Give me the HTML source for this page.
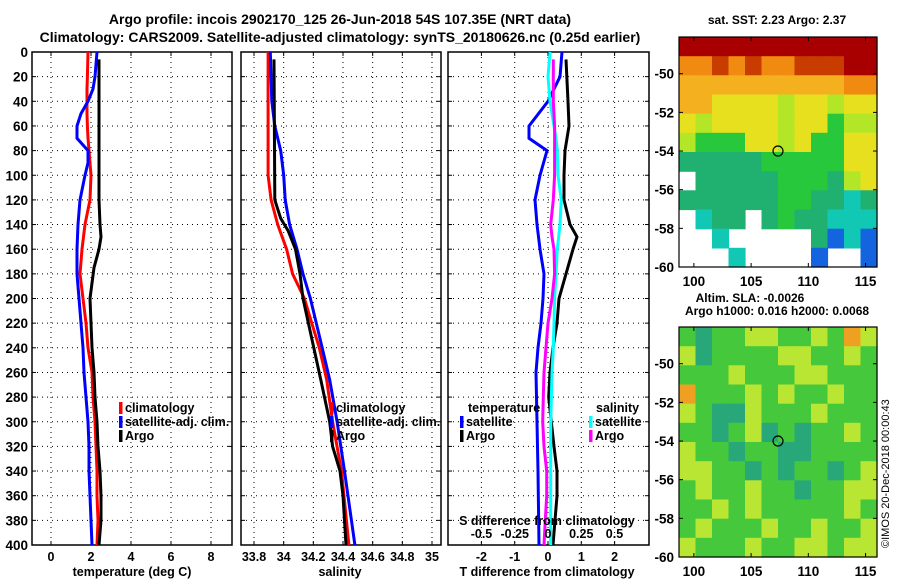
<!DOCTYPE html>
<html><head><meta charset="utf-8">
<style>
html,body{margin:0;padding:0;background:#fff;}
svg{display:block;font-family:"Liberation Sans",Arial,sans-serif;font-weight:bold;}
text{fill:#000;}
</style></head><body>
<svg id="fig" width="900" height="580" viewBox="0 0 900 580" xmlns="http://www.w3.org/2000/svg">
<text x="340" y="24" font-size="14" text-anchor="middle">Argo profile: incois 2902170_125 26-Jun-2018 54S 107.35E (NRT data)</text>
<text x="340" y="42" font-size="14" text-anchor="middle">Climatology: CARS2009. Satellite-adjusted climatology: synTS_20180626.nc (0.25d earlier)</text>
<text x="777" y="24" font-size="12" text-anchor="middle">sat. SST: 2.23 Argo: 2.37</text>
<text x="750" y="302" font-size="12" text-anchor="middle">Altim. SLA: -0.0026</text>
<text x="777" y="315" font-size="12" text-anchor="middle">Argo h1000: 0.016 h2000: 0.0068</text>
<text transform="translate(889,548) rotate(-90)" font-size="11" font-weight="normal">©IMOS 20-Dec-2018 00:00:43</text>
</svg>
<script>
// ---------- data ----------
const tDepth = [0,20,30,40,50,60,70,80,90,100,120,140,160,180,200,220,240,260,280,300,320,340,360,380,400];
const tClim  = [1.85,1.82,1.8,1.8,1.8,1.82,1.85,1.9,1.95,2.0,1.95,1.7,1.55,1.45,1.6,1.75,1.85,2.05,2.1,2.2,2.25,2.3,2.3,2.35,2.3];
const tSat   = [2.3,2.2,2.1,1.85,1.5,1.3,1.3,1.85,1.85,1.7,1.45,1.35,1.3,1.3,1.4,1.5,1.6,1.65,1.75,1.85,1.9,1.9,1.95,2.0,2.05];
const argoDepth = [6,20,40,60,80,100,120,140,150,160,175,200,220,240,260,280,300,320,340,360,380,400];
const tArgo  = [2.4,2.4,2.4,2.4,2.4,2.4,2.4,2.45,2.5,2.4,2.15,1.95,2.0,2.05,2.15,2.2,2.3,2.35,2.45,2.5,2.5,2.4];
const sDepth = [0,40,60,80,100,120,140,160,180,200,220,240,266,300,340,400];
const sClim  = [33.895,33.895,33.895,33.895,33.895,33.915,33.96,34.02,34.06,34.14,34.19,34.24,34.29,34.33,34.39,34.44];
const sSat   = [33.91,33.92,33.94,33.98,34.0,34.01,34.04,34.09,34.13,34.18,34.22,34.26,34.31,34.36,34.41,34.48];
const sArgoDepth = [6,120,135,145,160,180,200,266,300,320,340,360,400];
const sArgo  = [33.935,33.94,33.98,34.03,34.08,34.11,34.13,34.25,34.31,34.33,34.38,34.40,34.42];
const dDepth = [0,20,40,60,70,80,100,120,140,160,180,200,220,240,260,300,340,400];
const dTSat  = [0.42,0.36,0,-0.57,-0.57,-0.03,-0.24,-0.39,-0.33,-0.24,-0.12,-0.15,-0.21,-0.3,-0.36,-0.33,-0.3,-0.27];
const dArgoDepth = [6,40,60,80,100,120,140,150,160,180,200,220,240,260,280,300,320,340,360,380,400];
const dTArgo = [0.54,0.6,0.63,0.51,0.48,0.48,0.66,0.87,0.75,0.54,0.33,0.27,0.15,0.06,0.02,0.1,0.18,0.27,0.27,0.21,0.15];
const dSArgo = [0.04,0.04,0.05,0.05,0.05,0.04,0.02,0.03,0.045,0.05,0.03,0,-0.015,-0.03,-0.035,-0.04,-0.03,-0.01,-0.01,-0.02,-0.03];
const dSSat  = [0.015,0,0.015,0.045,0.06,0.07,0.075,0.1,0.09,0.07,0.06,0.05,0.045,0.04,0.03,0.02,0.02,0.02];
const depthTicks = [0,20,40,60,80,100,120,140,160,180,200,220,240,260,280,300,320,340,360,380,400];
const tTicks = [0,2,4,6,8];
const sTicks = [33.8,34,34.2,34.4,34.6,34.8,35];
const dTTicks = [-2,-1,0,1,2];
const dSTicks = [-0.5,-0.25,0,0.25,0.5];
const dSTickLabels = ['-0.5','-0.25','0','0.25','0.5'];
const sstGrid = [
[10,10,10,10,10,10,10,10,10,10,10,10],
[8,8,9,8,9,8,8,9,9,9,10,10],
[7,7,7,7,7,7,7,7,7,7,8,8],
[7,7,6,6,6,6,5,6,6,5,6,6],
[6,5,6,6,6,6,5,6,6,4,5,5],
[5,4,4,4,6,6,5,6,4,4,6,6],
[3,3,3,3,3,4,4,4,4,4,6,6],
[-1,3,3,3,3,3,4,4,4,3,5,6],
[3,3,3,3,3,3,4,4,3,3,2,3],
[-1,2,3,3,-1,3,4,3,3,2,2,2],
[-1,-1,2,-1,-1,-1,-1,-1,3,1,2,1],
[-1,-1,-1,2,-1,-1,-1,-1,1,-1,-1,1]];
const slaGrid = [
[4,3,4,4,5,5,4,4,5,4,6,5],
[5,3,4,4,4,4,5,5,4,4,5,4],
[4,4,4,5,4,4,4,5,5,4,4,4],
[6,4,4,4,5,4,5,4,4,5,4,4],
[5,4,3,3,5,4,4,4,5,4,4,4],
[4,4,3,4,5,3,4,3,4,4,5,4],
[5,4,4,3,4,4,3,3,4,4,4,4],
[5,5,4,4,3,4,3,4,4,3,4,5],
[4,5,4,4,5,4,4,3,4,4,5,5],
[4,4,5,4,5,4,4,4,4,4,5,4],
[4,5,4,4,4,5,4,4,5,4,4,5],
[5,4,4,4,5,4,4,5,5,4,5,5]];
const latTicks = [-50,-52,-54,-56,-58,-60];
const lonTicks = [100,105,110,115];
const floatLon = 107.35, floatLat = -54;

// ---------- helpers ----------
const NS='http://www.w3.org/2000/svg';
const svg=document.getElementById('fig');
function el(tag,attrs,parent){const e=document.createElementNS(NS,tag);for(const k in attrs)e.setAttribute(k,attrs[k]);(parent||svg).appendChild(e);return e;}
function txt(x,y,s,size,anchor,parent){const t=el('text',{x:x,y:y,'font-size':size,'text-anchor':anchor},parent);t.textContent=s;return t;}
const Y0=52,Y1=545;
const yD=d=>Y0+(d/400)*(Y1-Y0);
function lin(d0,d1,p0,p1){return v=>p0+(v-d0)/(d1-d0)*(p1-p0);}

function panel(name,x0,x1,xs,ticks,labels,showY){
  const g=el('g',{});
  
  
  ticks.forEach(t=>{const x=xs(t);const l=el('line',{x1:x,x2:x,y1:Y0,y2:Y1,stroke:'#000','stroke-dasharray':'1 4','stroke-width':1},g);
    });
  depthTicks.forEach(d=>{if(d===0||d===400)return;const y=yD(d);const l=el('line',{x1:x0,x2:x1,y1:y,y2:y,stroke:'#000','stroke-dasharray':'1 4','stroke-width':1},g);
    });
  depthTicks.forEach(d=>{const y=yD(d);el('line',{x1:x0,x2:x0+4,y1:y,y2:y,stroke:'#000'},g);el('line',{x1:x1-4,x2:x1,y1:y,y2:y,stroke:'#000'},g);
    if(showY){const t=txt(28,y+5,String(d),13.5,'end',g);}});
  ticks.forEach(t=>{const x=xs(t);el('line',{x1:x,x2:x,y1:Y1,y2:Y1-4,stroke:'#000'},g);el('line',{x1:x,x2:x,y1:Y0,y2:Y0+4,stroke:'#000'},g);});
  if(labels){ticks.forEach((t,i)=>{const l=txt(xs(t),561,labels[i],12.5,'middle',g);});}
  const r=el('rect',{x:x0,y:Y0,width:x1-x0,height:Y1-Y0,fill:'none',stroke:'#000','stroke-width':1.5},g);
  
  return g;
}
function series(g,name,depths,vals,xs,color){
  const pts=depths.map((d,i)=>xs(vals[i]).toFixed(1)+','+yD(d).toFixed(1)).join(' ');
  const p=el('polyline',{points:pts,fill:'none',stroke:color,'stroke-width':3,'stroke-linejoin':'miter'},g);
  
  
}
function legend(g,x,y,color,label){
  const r=el('rect',{x:x,y:y-10,width:3.5,height:12,fill:color},g);
  
  const t=txt(x+6,y,label,12.5,'start',g);
  
}

// ---------- panel 1 temperature ----------
const xT=lin(0,8,51,211);
const p1=panel('temperature-panel',32,232,xT,tTicks,tTicks.map(String),true);
series(p1,'temperature-climatology-line',tDepth,tClim,xT,'#f00');
series(p1,'temperature-satellite-line',tDepth,tSat,xT,'#00f');
series(p1,'temperature-argo-line',argoDepth,tArgo,xT,'#000');
legend(p1,119,412,'#f00','climatology');
legend(p1,119,426,'#00f','satellite-adj. clim.');
legend(p1,119,440,'#000','Argo');
let t=txt(132,576,'temperature (deg C)',12.5,'middle');

// ---------- panel 2 salinity ----------
const xS=lin(33.8,35,254,432);
const p2=panel('salinity-panel',241,441,xS,sTicks,sTicks.map(String),false);
series(p2,'salinity-climatology-line',sDepth,sClim,xS,'#f00');
series(p2,'salinity-satellite-line',sDepth,sSat,xS,'#00f');
series(p2,'salinity-argo-line',sArgoDepth,sArgo,xS,'#000');
legend(p2,330,412,'#f00','climatology');
legend(p2,330,426,'#00f','satellite-adj. clim.');
legend(p2,330,440,'#000','Argo');
t=txt(340,576,'salinity',12.5,'middle');

// ---------- panel 3 differences ----------
const xD=lin(0,1,548,581.3);
const xDS=lin(0,0.5,548,614.5);
const p3=panel('difference-panel',448,649,xD,dTTicks,dTTicks.map(String),false);
series(p3,'t-diff-satellite-line',dDepth,dTSat,xD,'#00f');
series(p3,'t-diff-argo-line',dArgoDepth,dTArgo,xD,'#000');
series(p3,'s-diff-satellite-line',dDepth,dSSat,xDS,'#0ff');
series(p3,'s-diff-argo-line',dArgoDepth,dSArgo,xDS,'#f0f');
t=txt(468,412,'temperature',12.5,'start',p3);
legend(p3,460,426,'#00f','satellite');
legend(p3,460,440,'#000','Argo');
t=txt(596,412,'salinity',12.5,'start',p3);
legend(p3,589,426,'#0ff','satellite');
legend(p3,589,440,'#f0f','Argo');
t=txt(547,525,'S difference from climatology',12.5,'middle',p3);
dSTicks.forEach((v,i)=>{const l=txt(xDS(v),538,dSTickLabels[i],12.5,'middle',p3);});
t=txt(547,576,'T difference from climatology',12.5,'middle');

// ---------- maps ----------
const MX0=679,MX1=877;
const lonX=lin(98.7,116,MX0,MX1);
const sstColors={10:'#a80000',9:'#c83c00',8:'#f08a10',7:'#f5b020',6:'#e6e01e',5:'#b4e628',4:'#28c83c',3:'#20b070',2:'#10c8b4',1:'#1464e0'};
const slaColors={6:'#f0a020',5:'#b8e632',4:'#46c83c',3:'#28a878'};
function map(name,top,grid,colors){
  const bot=top+230;
  const latY=lin(-48.1,-60,top,bot);
  const g=el('g',{});
  
  
  const nr=grid.length,nc=grid[0].length;
  const cw=(MX1-MX0)/nc,ch=(bot-top)/nr;
  grid.forEach((row,i)=>row.forEach((v,j)=>{
    if(v<0)return;
    const c=el('rect',{x:(MX0+j*cw).toFixed(1),y:(top+i*ch).toFixed(1),width:(cw+0.6).toFixed(1),height:(ch+0.6).toFixed(1),fill:colors[v]},g);
    
    
  }));
  const f=el('rect',{x:MX0,y:top,width:MX1-MX0,height:bot-top,fill:'none',stroke:'#000','stroke-width':1.2},g);
  
  latTicks.forEach(la=>{const y=latY(la);el('line',{x1:MX0,x2:MX0+4,y1:y,y2:y,stroke:'#000'},g);el('line',{x1:MX1-4,x2:MX1,y1:y,y2:y,stroke:'#000'},g);
    const l=txt(674,y+5,String(la),13.5,'end',g);});
  lonTicks.forEach(lo=>{const x=lonX(lo);el('line',{x1:x,x2:x,y1:bot,y2:bot-4,stroke:'#000'},g);el('line',{x1:x,x2:x,y1:top,y2:top+4,stroke:'#000'},g);
    const l=txt(x,bot+19,String(lo),13.5,'middle',g);});
  const c=el('circle',{cx:lonX(floatLon),cy:latY(floatLat),r:5,fill:'none',stroke:'#000','stroke-width':1.2},g);
  
}
map('sst-map',37,sstGrid,sstColors);
map('sla-map',327,slaGrid,slaColors);
</script>
</body></html>
